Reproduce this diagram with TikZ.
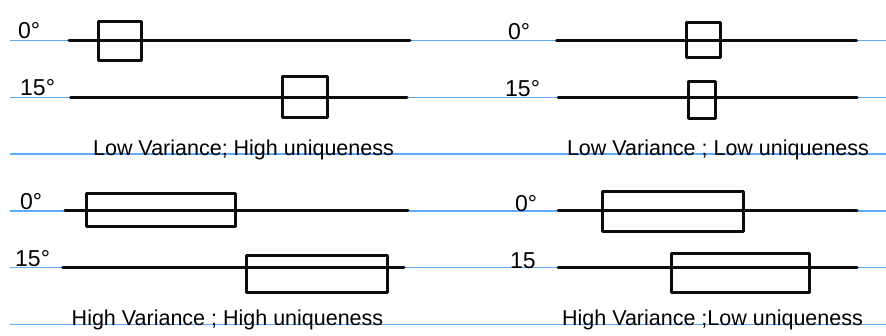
\documentclass[tikz,border=0pt]{standalone}
\usepackage{fontspec}
\setmainfont{Liberation Sans}
\usetikzlibrary{positioning}
\definecolor{ruleblue}{RGB}{95,170,252}
\definecolor{inkdark}{RGB}{12,12,12}

\begin{document}
\begin{tikzpicture}[x=1pt,y=-1pt,
  rule/.style={ruleblue,line width=1.4pt},
  axisline/.style={inkdark,line width=3pt,line cap=round},
  spreadbox/.style={inkdark,line width=3pt,line join=round},
  anglelabel/.style={font=\fontsize{23}{23}\selectfont,anchor=base west,inner sep=0pt},
  caption/.style={font=\fontsize{21.5}{21.5}\selectfont,anchor=base,inner sep=0pt}]
  \useasboundingbox (0,0) rectangle (886,335);
  \fill[white] (0,0) rectangle (886,335);
  % ruled paper
  \foreach \y in {40.7,97.4,154.1,210.8,267.5,324.2} \draw[rule] (10,\y) -- (886,\y);
  % low variance, high uniqueness
  \draw[axisline] (69,40.7) -- (410,40.7); \draw[spreadbox] (98.7,21.7) rectangle (141.7,60.3);
  \draw[axisline] (70.7,97.4) -- (407,97.4); \draw[spreadbox] (282.7,76) rectangle (327.7,117.3);
  \node[anglelabel] (tl0) at (18,38) {0°}; \node[anglelabel] (tl15) at (20,95) {15°};
  \node[caption] (tlcap) at (243.5,155) {Low Variance; High uniqueness};
  % low variance, low uniqueness
  \draw[axisline] (556.7,40.7) -- (856.7,40.7); \draw[spreadbox] (686.7,22.7) rectangle (720,57.7);
  \draw[axisline] (558,97.4) -- (857,97.4); \draw[spreadbox] (688,81.7) rectangle (715,118.3);
  \node[anglelabel] (tr0) at (508,39) {0°}; \node[anglelabel] (tr15) at (505,96) {15°};
  \node[caption] (trcap) at (718,155) {Low Variance ; Low uniqueness};
  % high variance, high uniqueness
  \draw[axisline] (65,210.8) -- (408,210.8); \draw[spreadbox] (86.7,193.3) rectangle (235,226);
  \draw[axisline] (62.7,267.5) -- (404,267.5); \draw[spreadbox] (246.7,255.7) rectangle (387.3,292.3);
  \node[anglelabel] (bl0) at (20,209) {0°}; \node[anglelabel] (bl15) at (15,266.5) {15°};
  \node[caption] (blcap) at (227.5,325) {High Variance ; High uniqueness};
  % high variance, low uniqueness
  \draw[axisline] (558,210.8) -- (857,210.8); \draw[spreadbox] (602.7,191) rectangle (743.3,231);
  \draw[axisline] (558,267.5) -- (857,267.5); \draw[spreadbox] (671,253.3) rectangle (809.3,292.3);
  \node[anglelabel] (br0) at (515,211.5) {0°}; \node[anglelabel] (br15) at (510,268) {15};
  \node[caption] (brcap) at (712.5,325) {High Variance ;Low uniqueness};
\end{tikzpicture}
\end{document}
